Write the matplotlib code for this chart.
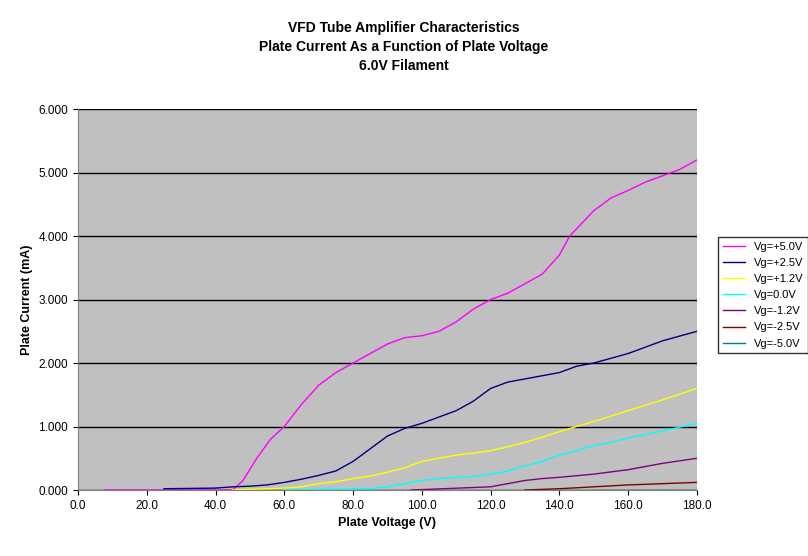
import matplotlib
matplotlib.use("Agg")
import matplotlib.pyplot as plt

plt.rcParams['font.family'] = ['Liberation Sans', 'DejaVu Sans']

x5 = [8,45,48,52,56,60,65,70,75,80,85,90,95,100,105,110,115,120,125,130,135,140,143,150,155,160,165,170,175,180]
y5 = [0,0,0.15,0.5,0.8,1.0,1.35,1.65,1.85,2.0,2.15,2.3,2.4,2.43,2.5,2.65,2.85,3.0,3.1,3.25,3.4,3.7,4.0,4.4,4.6,4.72,4.85,4.95,5.05,5.2]
x25 = [25,40,45,50,55,60,65,70,75,80,85,90,95,100,105,110,115,120,125,130,135,140,145,150,160,170,180]
y25 = [0.02,0.03,0.05,0.06,0.08,0.12,0.17,0.23,0.3,0.45,0.65,0.85,0.97,1.05,1.15,1.25,1.4,1.6,1.7,1.75,1.8,1.85,1.95,2.0,2.15,2.35,2.5]
x12 = [45,60,65,70,75,80,85,90,95,100,105,110,115,120,125,130,135,140,145,150,160,170,180]
y12 = [0,0.03,0.05,0.1,0.13,0.18,0.22,0.28,0.35,0.45,0.5,0.55,0.58,0.62,0.68,0.75,0.83,0.92,1.0,1.08,1.25,1.42,1.6]
x0 = [60,85,90,95,100,105,110,115,120,125,130,135,140,145,150,155,160,170,180]
y0 = [0,0.02,0.05,0.1,0.15,0.18,0.2,0.21,0.25,0.3,0.38,0.45,0.55,0.62,0.7,0.75,0.82,0.93,1.05]
xm12 = [97,120,125,130,135,140,150,160,170,180]
ym12 = [0,0.05,0.1,0.15,0.18,0.2,0.25,0.32,0.42,0.5]
xm25 = [130,140,150,160,170,180]
ym25 = [0,0.02,0.05,0.08,0.1,0.12]
xm5 = [150,160,170,180]
ym5 = [0,0,0,0]

series = [
    ("Vg=+5.0V", x5, y5, "#FF00FF"),
    ("Vg=+2.5V", x25, y25, "#000080"),
    ("Vg=+1.2V", x12, y12, "#FFFF00"),
    ("Vg=0.0V", x0, y0, "#00FFFF"),
    ("Vg=-1.2V", xm12, ym12, "#800080"),
    ("Vg=-2.5V", xm25, ym25, "#800000"),
    ("Vg=-5.0V", xm5, ym5, "#008080"),
]

fig = plt.figure(figsize=(8.08, 5.56), dpi=100)
ax = fig.add_axes([0.0965, 0.1187, 0.766, 0.685])
ax.set_facecolor("#C0C0C0")
for lab, xs, ys, c in series:
    ax.plot(xs, ys, color=c, lw=1, label=lab)
ax.set_xlim(0, 180)
ax.set_ylim(0, 6)
ax.set_xticks(range(0, 181, 20))
ax.set_xticklabels([f"{v:.1f}" for v in range(0, 181, 20)], fontsize=8.5)
ax.set_yticks(range(0, 7))
ax.set_yticklabels([f"{v:.3f}" for v in range(0, 7)], fontsize=8.5)
ax.yaxis.grid(True, color="black", lw=1)
ax.set_axisbelow(True)
for s in ["top", "right"]:
    ax.spines[s].set_visible(False)
ax.spines["left"].set_color("#808080")
ax.spines["bottom"].set_color("#808080")
ax.set_xlabel("Plate Voltage (V)", fontsize=9, fontweight="bold")
ax.set_ylabel("Plate Current (mA)", fontsize=9, fontweight="bold")
fig.text(0.5, 0.962, "VFD Tube Amplifier Characteristics\nPlate Current As a Function of Plate Voltage\n6.0V Filament",
         ha="center", va="top", fontsize=10, fontweight="bold", linespacing=1.45)
leg = fig.legend(loc="upper left", bbox_to_anchor=(0.882, 0.583), fontsize=8, frameon=True,
                 fancybox=False, edgecolor="black", handlelength=2, borderpad=0.4, labelspacing=0.55)
leg.get_frame().set_linewidth(1)
fig.savefig("out.png", dpi=100)
